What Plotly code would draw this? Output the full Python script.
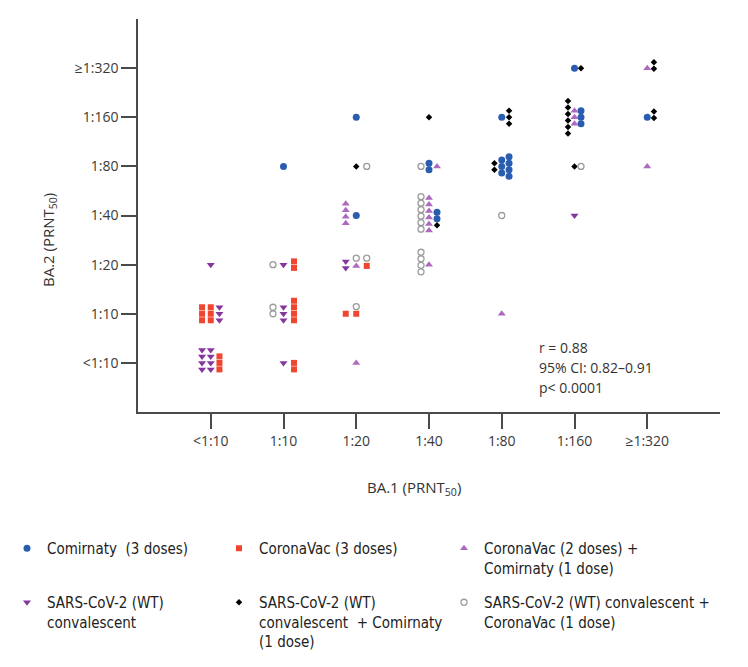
import plotly.graph_objects as go

# ---------------- data ----------------
CATS = ["<1:10", "1:10", "1:20", "1:40", "1:80", "1:160", "≥1:320"]

# Comirnaty (3 doses)
COMIRNATY_X = ["1:10", "1:20", "1:20", "1:40", "1:40", "1:80", "1:80", "1:160", "1:160", "≥1:320"]
COMIRNATY_Y = ["1:80", "1:160", "1:40", "1:80", "1:40", "1:160", "1:80", "≥1:320", "1:160", "1:160"]
COMIRNATY_N = [1, 1, 1, 2, 2, 1, 7, 1, 3, 1]

# CoronaVac (3 doses)
CORONAVAC3_X = ["<1:10", "<1:10", "1:10", "1:10", "1:10", "1:20", "1:20"]
CORONAVAC3_Y = ["1:10", "<1:10", "1:10", "1:20", "<1:10", "1:20", "1:10"]
CORONAVAC3_N = [6, 3, 4, 2, 2, 1, 2]

# CoronaVac (2 doses) + Comirnaty (1 dose)
CV2_COM_X = ["1:20", "1:20", "1:20", "1:40", "1:40", "1:40", "1:80", "1:160", "≥1:320", "≥1:320"]
CV2_COM_Y = ["1:40", "1:20", "<1:10", "1:40", "1:20", "1:80", "1:10", "1:160", "≥1:320", "1:80"]
CV2_COM_N = [4, 1, 1, 6, 1, 1, 1, 3, 1, 1]

# SARS-CoV-2 (WT) convalescent
CONV_X = ["<1:10", "<1:10", "<1:10", "1:10", "1:10", "1:10", "1:20", "1:160"]
CONV_Y = ["1:20", "1:10", "<1:10", "1:20", "1:10", "<1:10", "1:20", "1:40"]
CONV_N = [1, 3, 8, 1, 3, 1, 2, 1]

# SARS-CoV-2 (WT) convalescent + Comirnaty (1 dose)
CONV_COM_X = ["1:20", "1:40", "1:40", "1:80", "1:80", "1:160", "1:160", "1:160", "≥1:320", "≥1:320"]
CONV_COM_Y = ["1:80", "1:160", "1:40", "1:160", "1:80", "≥1:320", "1:160", "1:80", "≥1:320", "1:160"]
CONV_COM_N = [1, 1, 1, 3, 2, 1, 6, 1, 2, 2]

# SARS-CoV-2 (WT) convalescent + CoronaVac (1 dose)
CONV_CV_X = ["1:10", "1:10", "1:20", "1:20", "1:20", "1:40", "1:40", "1:40", "1:80", "1:160"]
CONV_CV_Y = ["1:10", "1:20", "1:80", "1:20", "1:10", "1:80", "1:40", "1:20", "1:40", "1:80"]
CONV_CV_N = [2, 1, 1, 2, 1, 1, 6, 4, 1, 1]

STATS = ["r = 0.88", "95% CI: 0.82–0.91", "p< 0.0001"]

# ---------------- layout of the dot stacks (positions only) ----------------
# per entry: (column slots, vertical shift in row steps)
COMIRNATY_LAYOUT = [([0], 0), ([0], 0), ([0], 0), ([0], 0), ([1], 0), ([0], 0),
                    ([0, 1], 0), ([0], 0), ([1], 0), ([0], 0)]
CORONAVAC3_LAYOUT = [([-1, 0], 0), ([1], 0), ([1], -0.5), ([1], 0), ([1], 0.5),
                     ([1], 0.2), ([-1, 0], 0)]
CV2_COM_LAYOUT = [([-1], -0.3), ([0], 0.2), ([0], 0), ([0], -0.2), ([0], 0), ([1], 0),
                  ([0], 0), ([0], 0), ([0], 0), ([0], 0)]
CONV_LAYOUT = [([0], 0), ([1], 0), ([-1, 0], -0.5), ([0], 0), ([0], 0), ([0], 0),
               ([-1], 0), ([0], 0)]
CONV_COM_LAYOUT = [([0], 0), ([0], 0), ([1], 1.5), ([1], 0), ([-1], 0), ([1], 0),
                   ([-1], 0), ([0], 0), ([1], -0.4), ([1], -0.4)]
CONV_CV_LAYOUT = [([-1], -0.5), ([-1], 0), ([1], 0), ([0, 1], -1), ([0], -1.1),
                  ([-1], 0), ([-1], -0.4), ([-1], -0.4), ([0], 0), ([1], 0)]

# page geometry (the page body adds an 8px offset around the figure)
PAGE_OFF = 8
PLOT_L, PLOT_R, PLOT_T, PLOT_B = 138, 720, 19, 412
PW, PH = PLOT_R - PLOT_L, PLOT_B - PLOT_T
FIG_W, FIG_H = 748 - PAGE_OFF, 667 - PAGE_OFF

PX_PER_X = PW / 8.0
PX_PER_Y = PH / 8.0
SLOT_PX = [8.7, 10.5, 10.5, 8.0, 7.3, 6.5, 6.7]  # column spacing per x category
ROW_PX = 6.5


def place(xc, yc, ns, layout):
    xs, ys = [], []
    for xcat, ycat, n, (slots, shift) in zip(xc, yc, ns, layout):
        xi, yi = CATS.index(xcat), CATS.index(ycat)
        k = len(slots)
        base = n // k
        extra = n - base * k
        counts = [base] * k
        for j in range(extra):
            counts[k - 1 - j] += 1
        assert sum(counts) == n
        for slot, m in zip(slots, counts):
            for r in range(m):
                xs.append(xi + slot * SLOT_PX[xi] / PX_PER_X)
                ys.append(yi - ((r - (m - 1) / 2.0) + shift) * ROW_PX / PX_PER_Y)
    return xs, ys


def px_x(px):
    return (px - PLOT_L) / PW


def px_y(py):
    return (PLOT_B - py) / PH


GROUPS = [
    ("Comirnaty  (3 doses)", COMIRNATY_X, COMIRNATY_Y, COMIRNATY_N, COMIRNATY_LAYOUT,
     dict(symbol="circle", size=7, color="#2A5DB0")),
    ("CoronaVac (3 doses)", CORONAVAC3_X, CORONAVAC3_Y, CORONAVAC3_N, CORONAVAC3_LAYOUT,
     dict(symbol="square", size=6, color="#F0452F")),
    ("CoronaVac (2 doses) +<br>Comirnaty (1 dose)", CV2_COM_X, CV2_COM_Y, CV2_COM_N, CV2_COM_LAYOUT,
     dict(symbol="triangle-up", size=7, color="#AD6ABF")),
    ("SARS-CoV-2 (WT)<br>convalescent", CONV_X, CONV_Y, CONV_N, CONV_LAYOUT,
     dict(symbol="triangle-down", size=7, color="#86379E")),
    ("SARS-CoV-2 (WT)<br>convalescent  + Comirnaty<br>(1 dose)", CONV_COM_X, CONV_COM_Y, CONV_COM_N,
     CONV_COM_LAYOUT, dict(symbol="diamond", size=5, color="#000000")),
    ("SARS-CoV-2 (WT) convalescent +<br>CoronaVac (1 dose)", CONV_CV_X, CONV_CV_Y, CONV_CV_N,
     CONV_CV_LAYOUT, dict(symbol="circle-open", size=6, color="#9C9C9C", line=dict(width=1.3))),
]

# legend grid: left edge of each column (page px) and top of each row (page px)
LEG_COL_LEFT = [7, 219, 444]
LEG_ROW_TOP = [532, 586]
LEG_FONT = dict(family="Liberation Sans Narrow, DejaVu Sans Condensed, sans-serif", size=15, color="#222222")

fig = go.Figure()
legends = {}
for i, (name, xc, yc, ns, lay, mk) in enumerate(GROUPS):
    xs, ys = place(xc, yc, ns, lay)
    lid = "legend" if i == 0 else "legend%d" % (i + 1)
    fig.add_trace(go.Scatter(x=xs, y=ys, mode="markers", name=name, marker=mk,
                             legend=lid, hoverinfo="skip"))
    legends[lid] = dict(orientation="v", x=px_x(LEG_COL_LEFT[i % 3]), xanchor="left",
                        y=px_y(LEG_ROW_TOP[i // 3]), yanchor="top", valign="top",
                        font=LEG_FONT, bgcolor="rgba(0,0,0,0)")

AX_COLOR = "#4a4a4a"
TICK_FONT = dict(family="Open Sans, sans-serif", size=14, color="#3a3a3a")

axis_common = dict(
    tickmode="array", tickvals=list(range(len(CATS))), ticktext=CATS,
    range=[-1, 7], showgrid=False, zeroline=False, showline=True,
    linecolor=AX_COLOR, linewidth=1.5, ticks="outside", ticklen=15,
    tickwidth=1.5, tickcolor=AX_COLOR, tickfont=TICK_FONT, fixedrange=True,
    automargin=False,
)

fig.update_layout(
    width=FIG_W, height=FIG_H,
    margin=dict(l=PLOT_L - PAGE_OFF, r=748 - PLOT_R, t=PLOT_T - PAGE_OFF, b=667 - PLOT_B,
                autoexpand=False),
    paper_bgcolor="white", plot_bgcolor="white",
    xaxis=axis_common,
    yaxis=axis_common,
    showlegend=True,
    **legends,
)

TITLE_FONT = dict(family="Open Sans, sans-serif", size=15, color="#333333")
fig.add_annotation(text="BA.1 (PRNT<sub>50</sub>)", xref="paper", yref="paper",
                   x=px_x(414), y=px_y(488), showarrow=False,
                   xanchor="center", yanchor="middle", font=TITLE_FONT)
fig.add_annotation(text="BA.2 (PRNT<sub>50</sub>)", xref="paper", yref="paper",
                   x=px_x(49), y=px_y(240), showarrow=False,
                   textangle=-90, xanchor="center", yanchor="middle", font=TITLE_FONT)
for i, s in enumerate(STATS):
    fig.add_annotation(text=s, xref="paper", yref="paper",
                       x=px_x(537), y=px_y(347 + 20 * i),
                       showarrow=False, xanchor="left", yanchor="middle",
                       font=dict(family="Open Sans, sans-serif", size=14, color="#333333"))

fig.write_html("out.html")
